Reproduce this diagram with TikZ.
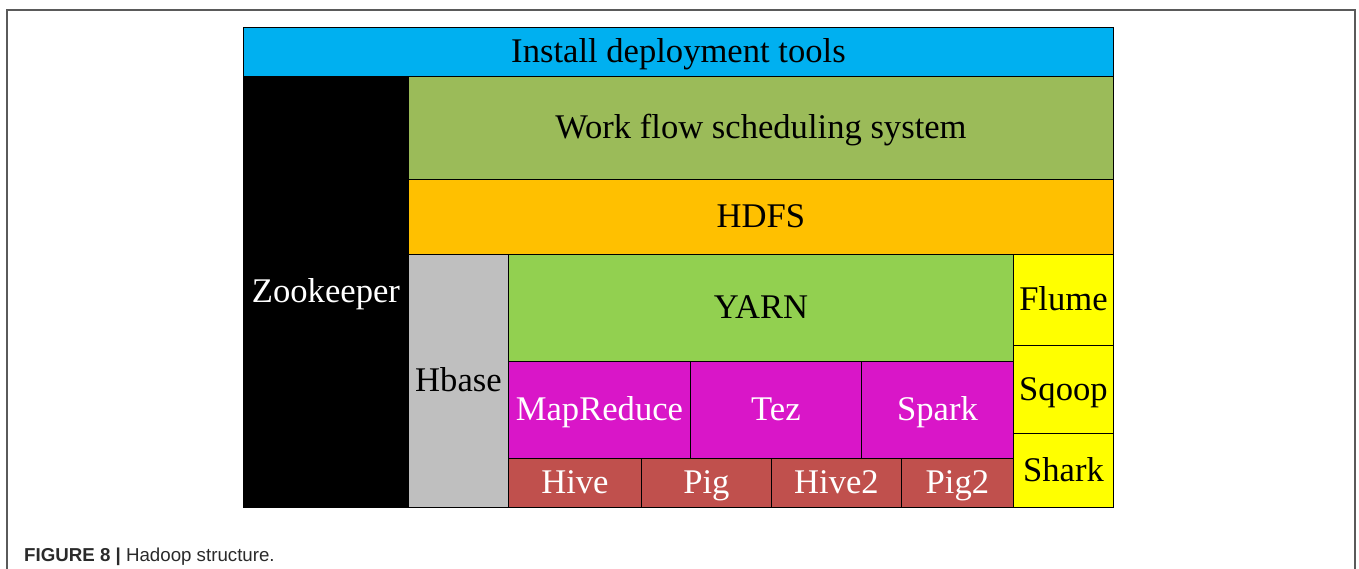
\documentclass[tikz,border=0pt]{standalone}
\usepackage{fontspec}
\setmainfont{Liberation Serif}
\newfontfamily\capfont{Liberation Sans}
\definecolor{cInstall}{HTML}{00B0F0}
\definecolor{cWork}{HTML}{9BBB59}
\definecolor{cHDFS}{HTML}{FFC000}
\definecolor{cHbase}{HTML}{BFBFBF}
\definecolor{cYarn}{HTML}{92D050}
\definecolor{cMag}{HTML}{D916C8}
\definecolor{cRed}{HTML}{C0504D}
\definecolor{cYel}{HTML}{FFFF00}
\definecolor{cFrame}{HTML}{5A5A5A}
\definecolor{cCap}{HTML}{2A2A2A}
\tikzset{
  blk/.style={draw=black, line width=0.9pt, anchor=north west, inner sep=0pt,
    font=\fontsize{34.6}{36}\selectfont, text height=22pt, text depth=0pt},
  wtxt/.style={text=white},
}
\begin{document}
\begin{tikzpicture}[x=1pt,y=-1pt]
\useasboundingbox (0,0) rectangle (1359,569);
\draw[cFrame, line width=2pt] (7,572) -- (7,10) -- (1355,10) -- (1355,572);
% top
\node[blk, fill=cInstall, minimum width=870, minimum height=49] (install) at (243,27) {Install deployment tools};
\node[blk, fill=black, wtxt, minimum width=165, minimum height=431] (zoo) at (243,76) {Zookeeper};
\node[blk, fill=cWork, minimum width=705, minimum height=103] (work) at (408,76) {Work flow scheduling system};
\node[blk, fill=cHDFS, minimum width=705, minimum height=75] (hdfs) at (408,179) {HDFS};
\node[blk, fill=cHbase, minimum width=100, minimum height=253] (hbase) at (408,254) {Hbase};
\node[blk, fill=cYarn, minimum width=505, minimum height=107] (yarn) at (508,254) {YARN};
\node[blk, fill=cMag, wtxt, minimum width=182, minimum height=97] (mr) at (508,361) {MapReduce};
\node[blk, fill=cMag, wtxt, minimum width=171, minimum height=97] (tez) at (690,361) {Tez};
\node[blk, fill=cMag, wtxt, minimum width=152, minimum height=97] (spark) at (861,361) {Spark};
\node[blk, fill=cRed, wtxt, minimum width=133, minimum height=49] (hive) at (508,458) {Hive};
\node[blk, fill=cRed, wtxt, minimum width=130, minimum height=49] (pig) at (641,458) {Pig};
\node[blk, fill=cRed, wtxt, minimum width=130, minimum height=49] (hive2) at (771,458) {Hive2};
\node[blk, fill=cRed, wtxt, minimum width=112, minimum height=49] (pig2) at (901,458) {Pig2};
\node[blk, fill=cYel, minimum width=100, minimum height=91] (flume) at (1013,254) {Flume};
\node[blk, fill=cYel, minimum width=100, minimum height=88] (sqoop) at (1013,345) {Sqoop};
\node[blk, fill=cYel, minimum width=100, minimum height=74] (shark) at (1013,433) {Shark};
% caption
\node[anchor=base west, inner sep=0pt, text=cCap, font=\capfont\fontsize{18.7}{20}\selectfont] (cap) at (24,561) {\textbf{FIGURE 8 |} Hadoop structure.};
\end{tikzpicture}
\end{document}
